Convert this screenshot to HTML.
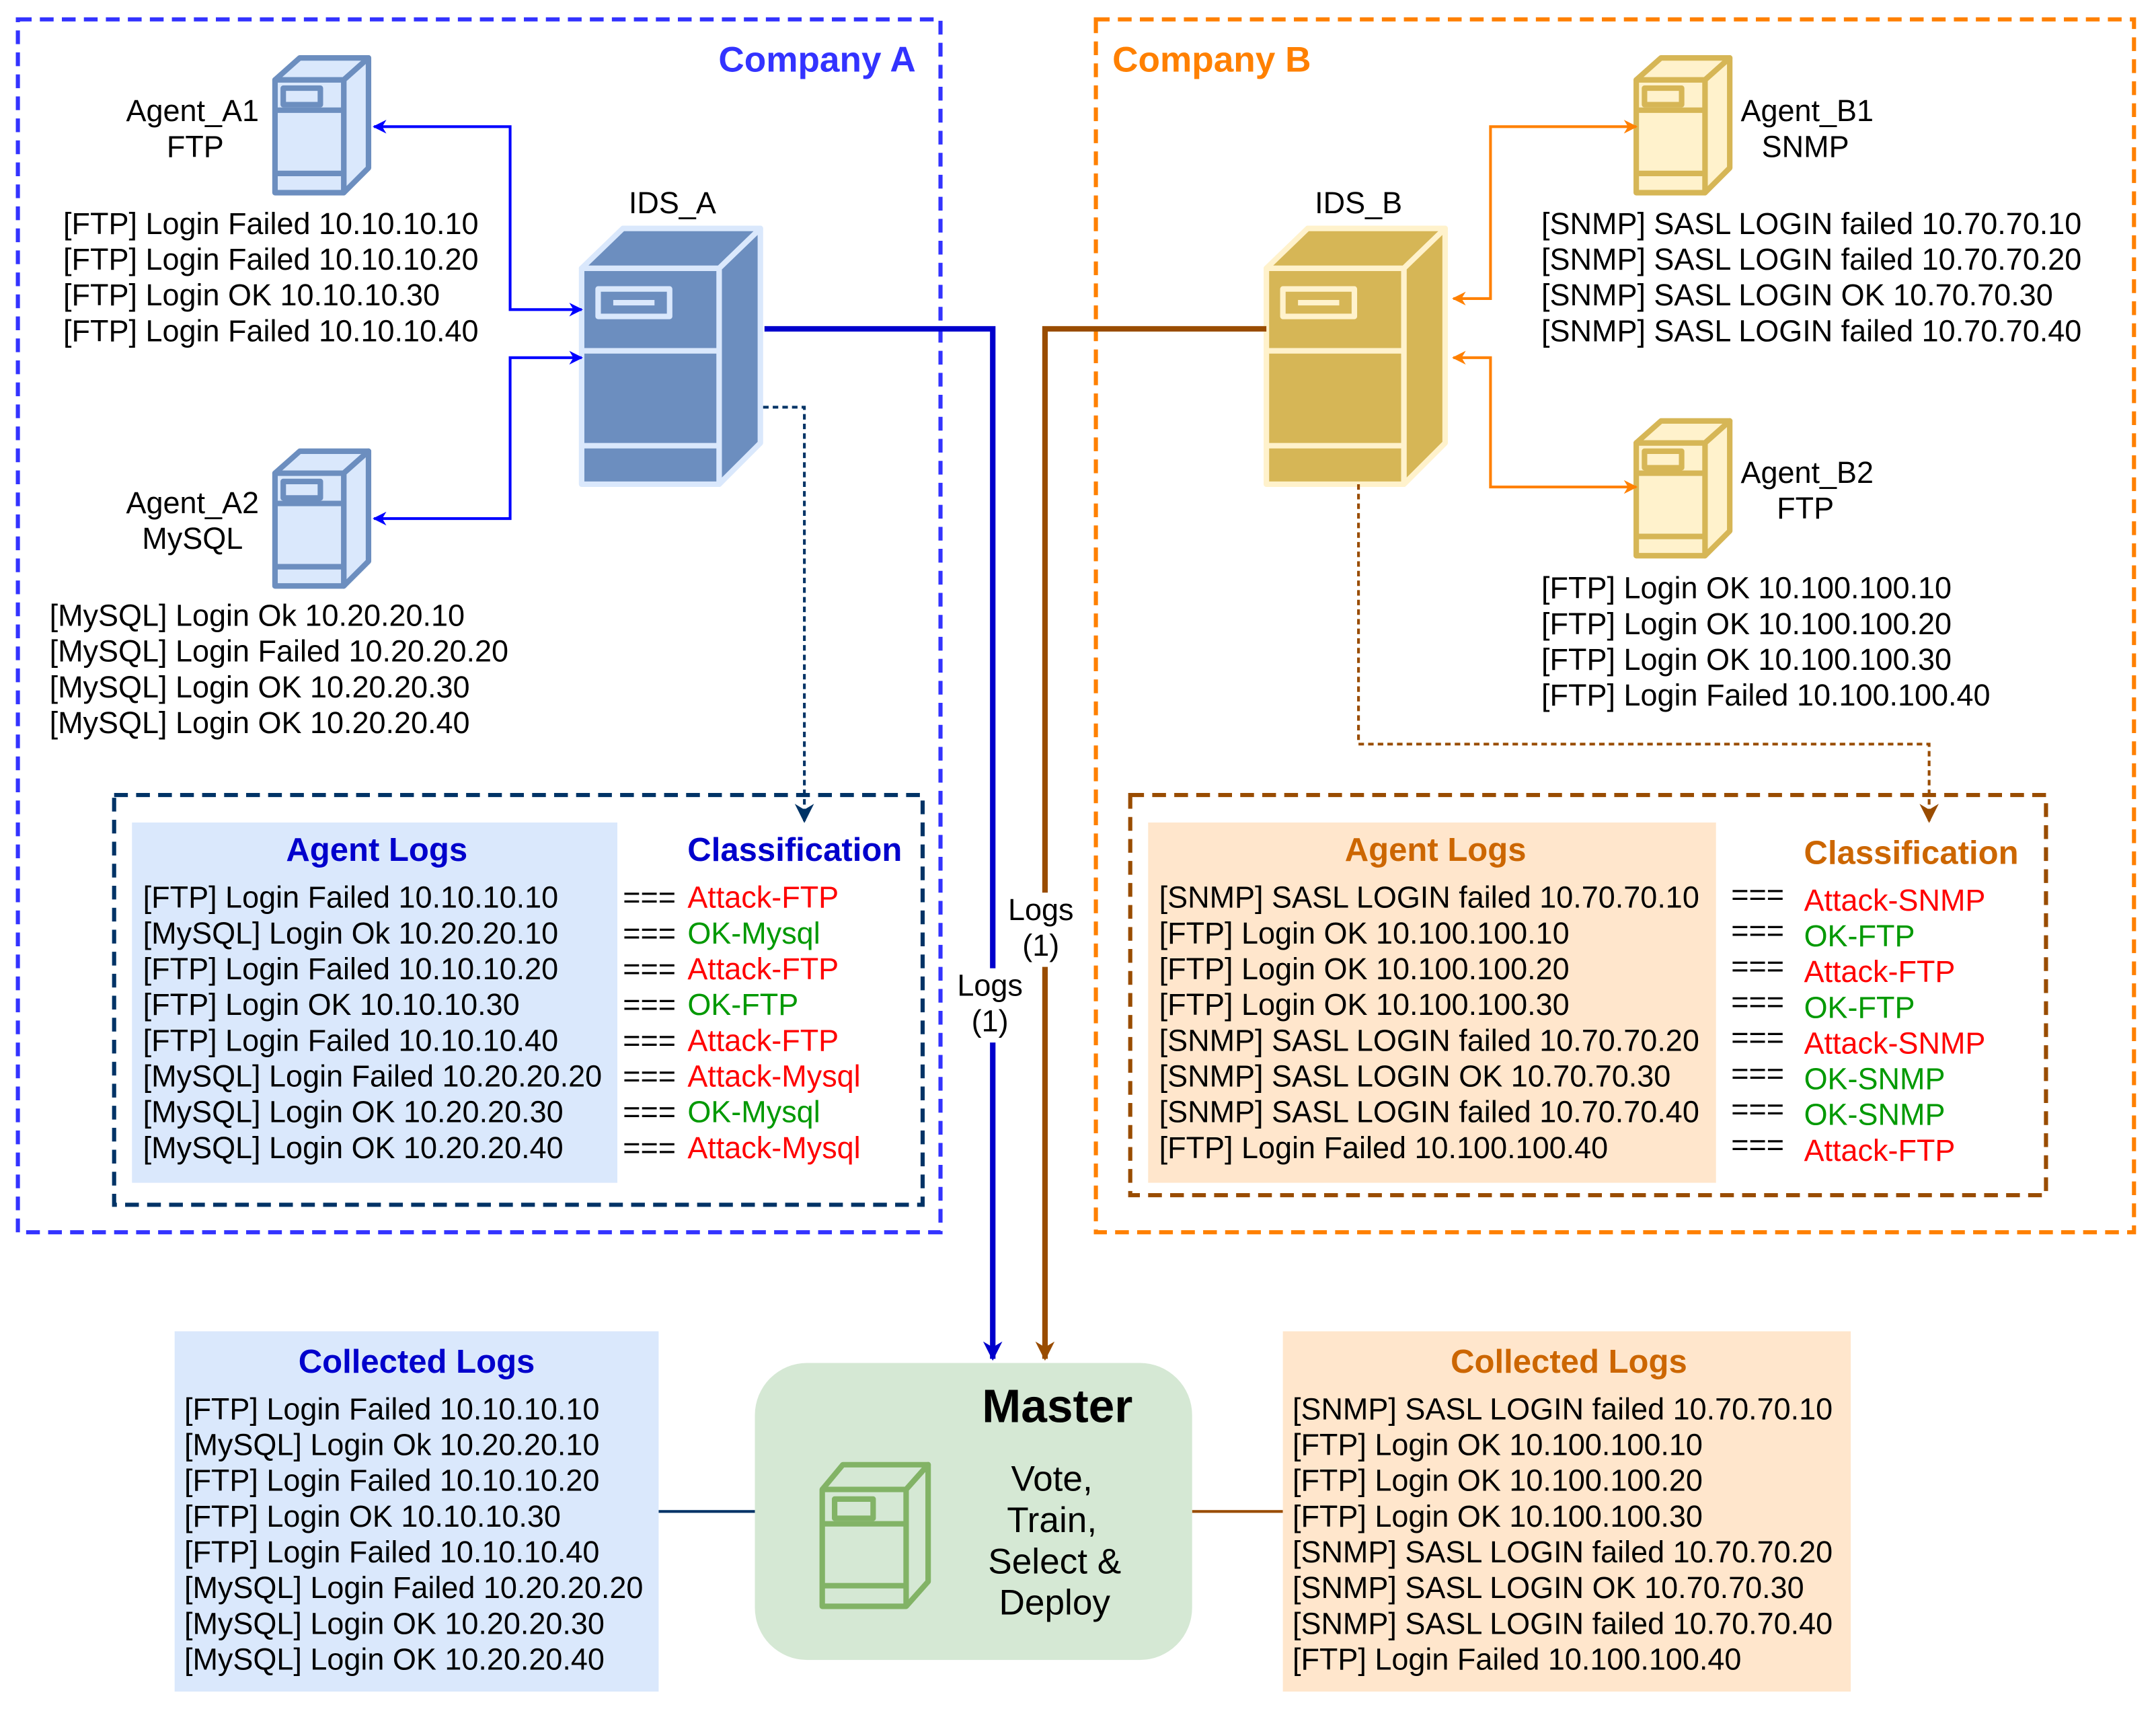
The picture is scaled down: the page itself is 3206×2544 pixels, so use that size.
<!DOCTYPE html>
<html><head><meta charset="utf-8"><style>
html,body{margin:0;padding:0;background:#fff;}
svg{display:block;}
text{font-family:"Liberation Sans",Arial,sans-serif;}
</style></head><body>
<svg xmlns="http://www.w3.org/2000/svg" width="3206" height="2544" viewBox="0 0 1568 1244">
<defs>
<marker id="ab" viewBox="0 0 10 10" refX="9" refY="5" markerWidth="5" markerHeight="5" orient="auto-start-reverse"><path d="M0,0 L10,5 L0,10 L3,5z" fill="#0000FF"/></marker>
<marker id="ao" viewBox="0 0 10 10" refX="9" refY="5" markerWidth="5" markerHeight="5" orient="auto-start-reverse"><path d="M0,0 L10,5 L0,10 L3,5z" fill="#FF8000"/></marker>
<marker id="abig" viewBox="0 0 10 10" refX="9" refY="5" markerWidth="3.5" markerHeight="3.5" orient="auto"><path d="M0,0 L10,5 L0,10 L3,5z" fill="#0000CC"/></marker>
<marker id="abr" viewBox="0 0 10 10" refX="9" refY="5" markerWidth="3.5" markerHeight="3.5" orient="auto"><path d="M0,0 L10,5 L0,10 L3,5z" fill="#994C00"/></marker>
<marker id="anv" viewBox="0 0 10 10" refX="9" refY="5" markerWidth="7" markerHeight="7" orient="auto"><path d="M0,0 L10,5 L0,10 L3,5z" fill="#003366"/></marker>
<marker id="abr2" viewBox="0 0 10 10" refX="9" refY="5" markerWidth="7" markerHeight="7" orient="auto"><path d="M0,0 L10,5 L0,10 L3,5z" fill="#994C00"/></marker>
</defs>

<rect x="13" y="14" width="671" height="882" fill="none" stroke="#3333FF" stroke-width="3" stroke-dasharray="10,6"/>
<text x="666" y="52" font-size="26" font-weight="bold" fill="#3333FF" text-anchor="end">Company A</text>
<rect x="797" y="14" width="755" height="882" fill="none" stroke="#FF8000" stroke-width="3" stroke-dasharray="10,6"/>
<text x="809" y="52" font-size="26" font-weight="bold" fill="#FF8000">Company B</text>

<g stroke="#6C8EBF" stroke-width="4" fill="#DAE8FC" stroke-linejoin="round">
<path d="M200,58 L218,42 L268,42 L250,58 Z"/>
<path d="M250,58 L268,42 L268,122 L250,140 Z"/>
<rect x="200" y="58" width="50" height="82"/>
<line x1="200" y1="80" x2="250" y2="80"/><line x1="200" y1="126" x2="250" y2="126"/>
<rect x="206" y="64" width="27" height="12"/>
</g>
<g stroke="#6C8EBF" stroke-width="4" fill="#DAE8FC" stroke-linejoin="round">
<path d="M200,344 L218,328 L268,328 L250,344 Z"/>
<path d="M250,344 L268,328 L268,408 L250,426 Z"/>
<rect x="200" y="344" width="50" height="82"/>
<line x1="200" y1="366" x2="250" y2="366"/><line x1="200" y1="412" x2="250" y2="412"/>
<rect x="206" y="350" width="27" height="12"/>
</g>
<g stroke="#D6B656" stroke-width="4" fill="#FFF2CC" stroke-linejoin="round">
<path d="M1190,58 L1208,42 L1258,42 L1240,58 Z"/>
<path d="M1240,58 L1258,42 L1258,122 L1240,140 Z"/>
<rect x="1190" y="58" width="50" height="82"/>
<line x1="1190" y1="80" x2="1240" y2="80"/><line x1="1190" y1="126" x2="1240" y2="126"/>
<rect x="1196" y="64" width="27" height="12"/>
</g>
<g stroke="#D6B656" stroke-width="4" fill="#FFF2CC" stroke-linejoin="round">
<path d="M1190,322 L1208,306 L1258,306 L1240,322 Z"/>
<path d="M1240,322 L1258,306 L1258,386 L1240,404 Z"/>
<rect x="1190" y="322" width="50" height="82"/>
<line x1="1190" y1="344" x2="1240" y2="344"/><line x1="1190" y1="390" x2="1240" y2="390"/>
<rect x="1196" y="328" width="27" height="12"/>
</g>

<g stroke="#DAE8FC" stroke-width="4" fill="#6C8EBF" stroke-linejoin="round">
<path d="M423,195 L453,166 L553,166 L523,195 Z"/>
<path d="M523,195 L553,166 L553,322 L523,352 Z"/>
<rect x="423" y="195" width="100" height="157"/>
<line x1="423" y1="255" x2="523" y2="255"/><line x1="423" y1="324" x2="523" y2="324"/>
<rect x="435" y="210" width="52" height="20"/>
<line x1="446" y1="220" x2="476" y2="220"/>
</g>
<g stroke="#FFF2CC" stroke-width="4" fill="#D6B656" stroke-linejoin="round">
<path d="M921,195 L951,166 L1051,166 L1021,195 Z"/>
<path d="M1021,195 L1051,166 L1051,322 L1021,352 Z"/>
<rect x="921" y="195" width="100" height="157"/>
<line x1="921" y1="255" x2="1021" y2="255"/><line x1="921" y1="324" x2="1021" y2="324"/>
<rect x="933" y="210" width="52" height="20"/>
<line x1="944" y1="220" x2="974" y2="220"/>
</g>

<g font-size="22" fill="#000">
<text x="140" y="88" text-anchor="middle">Agent_A1</text>
<text x="142" y="114" text-anchor="middle">FTP</text>
<text x="140" y="373" text-anchor="middle">Agent_A2</text>
<text x="140" y="399" text-anchor="middle">MySQL</text>
<text x="489" y="155" text-anchor="middle">IDS_A</text>
<text x="988" y="155" text-anchor="middle">IDS_B</text>
<text x="1266" y="88">Agent_B1</text>
<text x="1313" y="114" text-anchor="middle">SNMP</text>
<text x="1266" y="351">Agent_B2</text>
<text x="1313" y="377" text-anchor="middle">FTP</text>

<text x="46" y="170">[FTP] Login Failed 10.10.10.10</text>
<text x="46" y="196">[FTP] Login Failed 10.10.10.20</text>
<text x="46" y="222">[FTP] Login OK 10.10.10.30</text>
<text x="46" y="248">[FTP] Login Failed 10.10.10.40</text>
<text x="36" y="455">[MySQL] Login Ok 10.20.20.10</text>
<text x="36" y="481">[MySQL] Login Failed 10.20.20.20</text>
<text x="36" y="507">[MySQL] Login OK 10.20.20.30</text>
<text x="36" y="533">[MySQL] Login OK 10.20.20.40</text>

<text x="1121" y="170">[SNMP] SASL LOGIN failed 10.70.70.10</text>
<text x="1121" y="196">[SNMP] SASL LOGIN failed 10.70.70.20</text>
<text x="1121" y="222">[SNMP] SASL LOGIN OK 10.70.70.30</text>
<text x="1121" y="248">[SNMP] SASL LOGIN failed 10.70.70.40</text>
<text x="1121" y="435">[FTP] Login OK 10.100.100.10</text>
<text x="1121" y="461">[FTP] Login OK 10.100.100.20</text>
<text x="1121" y="487">[FTP] Login OK 10.100.100.30</text>
<text x="1121" y="513">[FTP] Login Failed 10.100.100.40</text>
</g>

<path d="M272,92 H371 V225 H423" fill="none" stroke="#0000FF" stroke-width="2" marker-start="url(#ab)" marker-end="url(#ab)"/>
<path d="M272,377 H371 V260 H423" fill="none" stroke="#0000FF" stroke-width="2" marker-start="url(#ab)" marker-end="url(#ab)"/>
<path d="M1190,92 H1084 V217 H1057" fill="none" stroke="#FF8000" stroke-width="2" marker-start="url(#ao)" marker-end="url(#ao)"/>
<path d="M1057,260 H1084 V354 H1190" fill="none" stroke="#FF8000" stroke-width="2" marker-start="url(#ao)" marker-end="url(#ao)"/>

<path d="M555,296 H585 V597" fill="none" stroke="#003366" stroke-width="2" stroke-dasharray="4,3" marker-end="url(#anv)"/>
<path d="M988,352 V541 H1403 V597" fill="none" stroke="#994C00" stroke-width="2" stroke-dasharray="4,3" marker-end="url(#abr2)"/>

<path d="M556,239 H722 V988" fill="none" stroke="#0000CC" stroke-width="4" marker-end="url(#abig)"/>
<path d="M921,239 H760 V988" fill="none" stroke="#994C00" stroke-width="4" marker-end="url(#abr)"/>
<rect x="693" y="704" width="54" height="54" fill="#fff"/>
<rect x="730" y="649" width="54" height="54" fill="#fff"/>
<g font-size="22" text-anchor="middle">
<text x="720" y="724">Logs</text><text x="720" y="750">(1)</text>
<text x="757" y="669">Logs</text><text x="757" y="695">(1)</text>
</g>

<rect x="83" y="578" width="588" height="298" fill="none" stroke="#003366" stroke-width="3" stroke-dasharray="10,6"/>
<rect x="96" y="598" width="353" height="262" fill="#DAE8FC"/>
<text x="274" y="626" font-size="24" font-weight="bold" fill="#0000CC" text-anchor="middle">Agent Logs</text>
<text x="578" y="626" font-size="24" font-weight="bold" fill="#0000CC" text-anchor="middle">Classification</text>
<g font-size="22">
<text x="104" y="660">[FTP] Login Failed 10.10.10.10</text>
<text x="104" y="686">[MySQL] Login Ok 10.20.20.10</text>
<text x="104" y="712">[FTP] Login Failed 10.10.10.20</text>
<text x="104" y="738">[FTP] Login OK 10.10.10.30</text>
<text x="104" y="764">[FTP] Login Failed 10.10.10.40</text>
<text x="104" y="790">[MySQL] Login Failed 10.20.20.20</text>
<text x="104" y="816">[MySQL] Login OK 10.20.20.30</text>
<text x="104" y="842">[MySQL] Login OK 10.20.20.40</text>
<text x="453" y="660">===</text><text x="453" y="686">===</text><text x="453" y="712">===</text><text x="453" y="738">===</text>
<text x="453" y="764">===</text><text x="453" y="790">===</text><text x="453" y="816">===</text><text x="453" y="842">===</text>
<text x="500" y="660" fill="#FF0000">Attack-FTP</text>
<text x="500" y="686" fill="#009900">OK-Mysql</text>
<text x="500" y="712" fill="#FF0000">Attack-FTP</text>
<text x="500" y="738" fill="#009900">OK-FTP</text>
<text x="500" y="764" fill="#FF0000">Attack-FTP</text>
<text x="500" y="790" fill="#FF0000">Attack-Mysql</text>
<text x="500" y="816" fill="#009900">OK-Mysql</text>
<text x="500" y="842" fill="#FF0000">Attack-Mysql</text>
</g>

<rect x="822" y="578" width="666" height="291" fill="none" stroke="#994C00" stroke-width="3" stroke-dasharray="10,6"/>
<rect x="835" y="598" width="413" height="262" fill="#FFE6CC"/>
<text x="1044" y="626" font-size="24" font-weight="bold" fill="#CC6600" text-anchor="middle">Agent Logs</text>
<text x="1390" y="628" font-size="24" font-weight="bold" fill="#CC6600" text-anchor="middle">Classification</text>
<g font-size="22">
<text x="843" y="660">[SNMP] SASL LOGIN failed 10.70.70.10</text>
<text x="843" y="686">[FTP] Login OK 10.100.100.10</text>
<text x="843" y="712">[FTP] Login OK 10.100.100.20</text>
<text x="843" y="738">[FTP] Login OK 10.100.100.30</text>
<text x="843" y="764">[SNMP] SASL LOGIN failed 10.70.70.20</text>
<text x="843" y="790">[SNMP] SASL LOGIN OK 10.70.70.30</text>
<text x="843" y="816">[SNMP] SASL LOGIN failed 10.70.70.40</text>
<text x="843" y="842">[FTP] Login Failed 10.100.100.40</text>
<text x="1259" y="658">===</text><text x="1259" y="684">===</text><text x="1259" y="710">===</text><text x="1259" y="736">===</text>
<text x="1259" y="762">===</text><text x="1259" y="788">===</text><text x="1259" y="814">===</text><text x="1259" y="840">===</text>
<text x="1312" y="662" fill="#FF0000">Attack-SNMP</text>
<text x="1312" y="688" fill="#009900">OK-FTP</text>
<text x="1312" y="714" fill="#FF0000">Attack-FTP</text>
<text x="1312" y="740" fill="#009900">OK-FTP</text>
<text x="1312" y="766" fill="#FF0000">Attack-SNMP</text>
<text x="1312" y="792" fill="#009900">OK-SNMP</text>
<text x="1312" y="818" fill="#009900">OK-SNMP</text>
<text x="1312" y="844" fill="#FF0000">Attack-FTP</text>
</g>

<line x1="479" y1="1099" x2="549" y2="1099" stroke="#003366" stroke-width="2"/>
<line x1="867" y1="1099" x2="933" y2="1099" stroke="#994C00" stroke-width="2"/>
<rect x="127" y="968" width="352" height="262" fill="#DAE8FC"/>
<text x="303" y="998" font-size="24" font-weight="bold" fill="#0000CC" text-anchor="middle">Collected Logs</text>
<g font-size="22">
<text x="134" y="1032">[FTP] Login Failed 10.10.10.10</text>
<text x="134" y="1058">[MySQL] Login Ok 10.20.20.10</text>
<text x="134" y="1084">[FTP] Login Failed 10.10.10.20</text>
<text x="134" y="1110">[FTP] Login OK 10.10.10.30</text>
<text x="134" y="1136">[FTP] Login Failed 10.10.10.40</text>
<text x="134" y="1162">[MySQL] Login Failed 10.20.20.20</text>
<text x="134" y="1188">[MySQL] Login OK 10.20.20.30</text>
<text x="134" y="1214">[MySQL] Login OK 10.20.20.40</text>
</g>
<rect x="933" y="968" width="413" height="262" fill="#FFE6CC"/>
<text x="1141" y="998" font-size="24" font-weight="bold" fill="#CC6600" text-anchor="middle">Collected Logs</text>
<g font-size="22">
<text x="940" y="1032">[SNMP] SASL LOGIN failed 10.70.70.10</text>
<text x="940" y="1058">[FTP] Login OK 10.100.100.10</text>
<text x="940" y="1084">[FTP] Login OK 10.100.100.20</text>
<text x="940" y="1110">[FTP] Login OK 10.100.100.30</text>
<text x="940" y="1136">[SNMP] SASL LOGIN failed 10.70.70.20</text>
<text x="940" y="1162">[SNMP] SASL LOGIN OK 10.70.70.30</text>
<text x="940" y="1188">[SNMP] SASL LOGIN failed 10.70.70.40</text>
<text x="940" y="1214">[FTP] Login Failed 10.100.100.40</text>
</g>

<rect x="549" y="991" width="318" height="216" rx="38" fill="#D5E8D4"/>
<text x="769" y="1034" font-size="34" font-weight="bold" text-anchor="middle">Master</text>
<g font-size="26" text-anchor="middle">
<text x="765" y="1084">Vote,</text>
<text x="765" y="1114">Train,</text>
<text x="767" y="1144">Select &amp;</text>
<text x="767" y="1174">Deploy</text>
</g>
<g stroke="#82B366" stroke-width="4" fill="none" stroke-linejoin="round">
<path d="M598,1083 L613,1065 L675,1065 L659,1083"/>
<path d="M659,1083 L675,1065 L675,1150 L659,1168"/>
<rect x="598" y="1083" width="61" height="85"/>
<line x1="598" y1="1108" x2="659" y2="1108"/><line x1="598" y1="1153" x2="659" y2="1153"/>
<rect x="607" y="1090" width="28" height="14"/>
</g>
</svg>
</body></html>
